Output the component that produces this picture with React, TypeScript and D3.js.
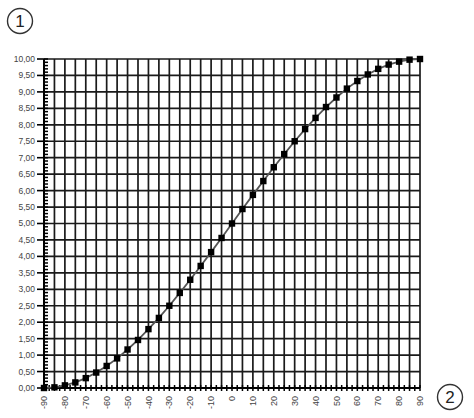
import React from "react";
import * as d3 from "d3";

const xValues = [-90,-85,-80,-75,-70,-65,-60,-55,-50,-45,-40,-35,-30,-25,-20,-15,-10,-5,0,5,10,15,20,25,30,35,40,45,50,55,60,65,70,75,80,85,90];
const yValues = [0.00,0.02,0.08,0.17,0.30,0.47,0.67,0.90,1.17,1.46,1.79,2.13,2.50,2.89,3.29,3.71,4.13,4.56,5.00,5.44,5.87,6.29,6.71,7.11,7.50,7.87,8.21,8.54,8.83,9.10,9.33,9.53,9.70,9.83,9.92,9.98,10.00];
const xTickLabels = [-90,-80,-70,-60,-50,-40,-30,-20,-10,0,10,20,30,40,50,60,70,80,90];
const yTickLabels = ["0,00","0,50","1,00","1,50","2,00","2,50","3,00","3,50","4,00","4,50","5,00","5,50","6,00","6,50","7,00","7,50","8,00","8,50","9,00","9,50","10,00"];
const xGrid = d3.range(-90, 91, 5);
const yGrid = d3.range(0, 10.01, 0.5);
const yMinor = d3.range(0, 10.01, 0.1);
const xMinor = d3.range(-90, 90.01, 2.5);

export default function App() {
  const W = 474, H = 418;
  const L = 44, R = 420, T = 59, B = 388;
  const x = d3.scaleLinear().domain([-90, 90]).range([L, R]);
  const y = d3.scaleLinear().domain([0, 10]).range([B, T]);
  const line = d3.line<number>().x((_, i) => x(xValues[i])).y((d) => y(d));
  const font = "'Liberation Sans', Arial, sans-serif";
  return (
    <svg width={W} height={H} style={{ position: "absolute", left: 0, top: 0, background: "#fff" }}>
      <rect width={W} height={H} fill="#fff" />
      {xGrid.map((v) => (
        <line key={"vx" + v} x1={x(v)} x2={x(v)} y1={T} y2={B} stroke="#1a1a1a" strokeWidth={1.7} />
      ))}
      {yGrid.map((v) => (
        <line key={"hy" + v} x1={L} x2={R} y1={y(v)} y2={y(v)} stroke="#1a1a1a" strokeWidth={1.7} />
      ))}
      {/* y axis */}
      <line x1={L} x2={L} y1={T} y2={B} stroke="#000" strokeWidth={2} />
      {yMinor.map((v, i) => (
        <line key={"ym" + i} x1={L} x2={L + 4} y1={y(v)} y2={y(v)} stroke="#000" strokeWidth={1.5} />
      ))}
      {yGrid.map((v, i) => (
        <line key={"yt" + i} x1={L - 7} x2={L} y1={y(v)} y2={y(v)} stroke="#000" strokeWidth={1.6} />
      ))}
      {yGrid.map((v, i) => (
        <text key={"yl" + i} x={L - 9} y={y(v)} dy="0.35em" textAnchor="end" fontFamily={font} fontSize={8.5} fill="#444">
          {yTickLabels[i]}
        </text>
      ))}
      {/* x axis */}
      <line x1={L} x2={R} y1={B} y2={B} stroke="#000" strokeWidth={2} />
      {xMinor.map((v, i) => (
        <line key={"xm" + i} x1={x(v)} x2={x(v)} y1={B - 3} y2={B + 3} stroke="#000" strokeWidth={1.5} />
      ))}
      {xTickLabels.map((v, i) => (
        <text
          key={"xl" + i}
          transform={`translate(${x(v)},${B + 8}) rotate(-90)`}
          dy="0.35em"
          textAnchor="end"
          fontFamily={font}
          fontSize={9}
          fill="#444"
        >
          {v}
        </text>
      ))}
      {/* series */}
      <path d={line(yValues) || ""} fill="none" stroke="#555" strokeWidth={1.8} />
      {yValues.map((v, i) => (
        <rect key={"p" + i} x={x(xValues[i]) - 3.2} y={y(v) - 3.2} width={6.4} height={6.4} fill="#000" />
      ))}
      {/* circled labels */}
      <circle cx={20} cy={21} r={12.5} fill="none" stroke="#333" strokeWidth={1.4} />
      <text x={20} y={21} dy="0.36em" textAnchor="middle" fontFamily={font} fontSize={17} fill="#222">1</text>
      <circle cx={450} cy={397} r={12.5} fill="none" stroke="#333" strokeWidth={1.4} />
      <text x={450} y={397} dy="0.36em" textAnchor="middle" fontFamily={font} fontSize={17} fill="#222">2</text>
    </svg>
  );
}
